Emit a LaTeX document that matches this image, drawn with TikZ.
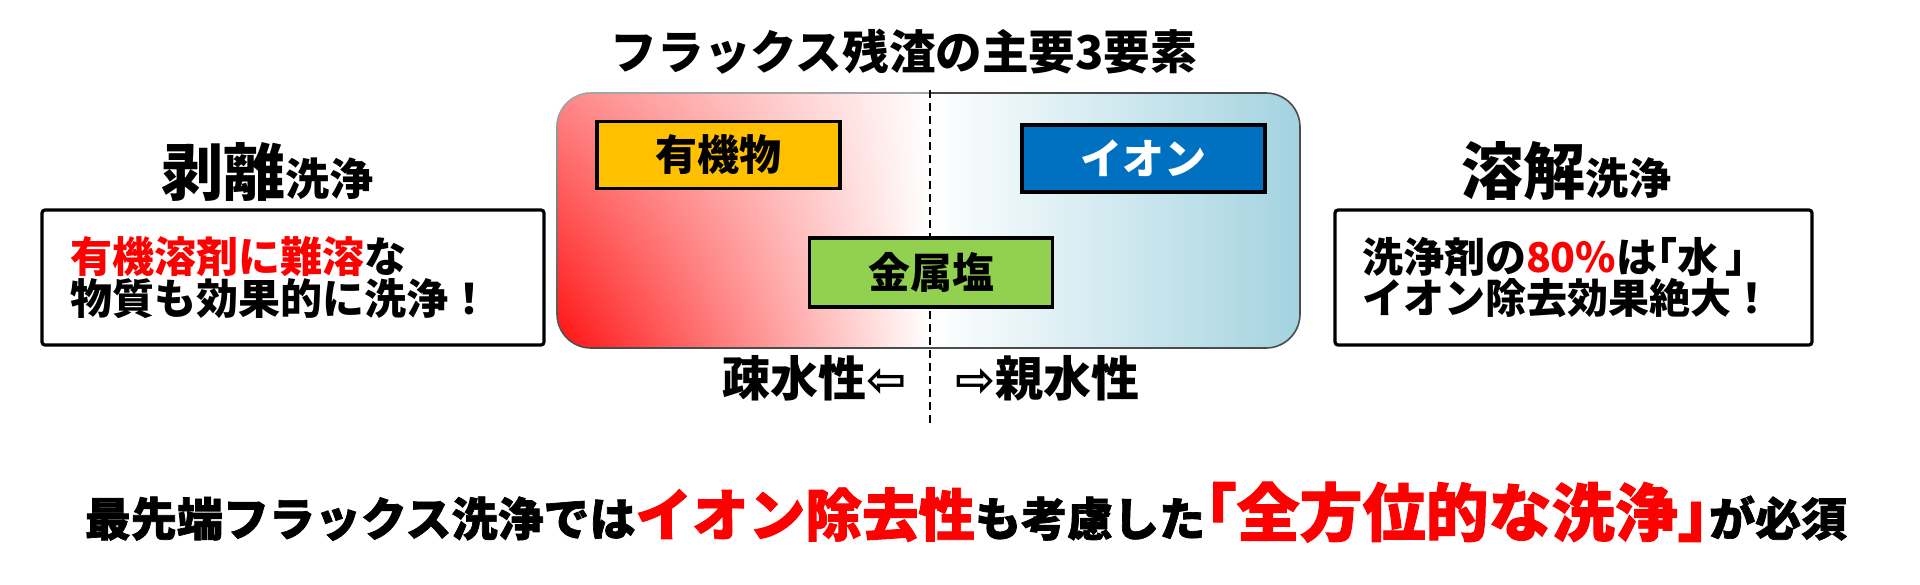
\documentclass[tikz,border=0pt]{standalone}
\usepackage{fontspec}
\setmainfont{Noto Sans CJK JP}
\newfontfamily\heavyfont{Noto Sans CJK JP}[BoldFeatures={FakeBold=1.5}]
\newfontfamily\arrowfont{DejaVu Sans}
\newcommand\halfbr[1]{{\addfontfeature{RawFeature=+halt}#1}}
\usetikzlibrary{fadings}
\definecolor{organicfill}{HTML}{FFC000}
\definecolor{ionfill}{HTML}{0070C0}
\definecolor{metalfill}{HTML}{92D050}
\definecolor{alertred}{HTML}{FF0000}
\definecolor{fluxred}{HTML}{FF1010}
\definecolor{fluxblue}{HTML}{A3D3E0}
\begin{document}
\begin{tikzpicture}[x=0.5pt, y=-0.5pt,
  fluxbox/.style={draw=gray!60!black, line width=0.8pt, rounded corners=17pt, left color=fluxred, right color=fluxblue, middle color=white, minimum width=371.5pt, minimum height=127.5pt},
  elembox/.style={draw, line width=1.7pt, minimum width=121.5pt, minimum height=33.5pt, font=\fontsize{21}{25}\selectfont\bfseries},
  cleanbox/.style={draw, line width=1.6pt, rounded corners=1.5pt, align=left, minimum height=67.5pt, font=\bfseries},
  sidelabel/.style={font=\fontsize{24}{28}\selectfont\bfseries}]
\useasboundingbox (0,0) rectangle (1920,584);
% title
\node[font=\fontsize{23.3}{28}\selectfont\bfseries] (title) at (904,52) {フラックス残渣の主要3要素};
% three residue elements
\node[fluxbox] (flux) at (928.5,220.5) {};
\begin{scope}
\clip[rounded corners=17pt] (flux.north west) rectangle (flux.south east);
\fill[white, fill opacity=0.5, path fading=south] (flux.north west) rectangle (flux.south);
\end{scope}
\coordinate (splittop) at (930,90);
\coordinate (splitbot) at (930,425);
\draw[line width=1pt, dash pattern=on 4pt off 2.5pt] (splittop) -- (splitbot);
\node[elembox, fill=organicfill] (organic) at (718.5,155) {有機物};
\node[elembox, fill=ionfill, text=white] (ion) at (1143.5,158.5) {イオン};
\node[elembox, fill=metalfill, minimum height=34.5pt] (metal) at (931,272.5) {金属塩};
\node[sidelabel, anchor=east] (phobic) at (914,378) {疎水性{\arrowfont ⇦}};
\node[sidelabel, anchor=west] (philic) at (948,378) {{\arrowfont ⇨}親水性};
% peeling cleaning
\node[anchor=base, font=\bfseries] (peel) at (267.5,195) {{\fontsize{31}{36}\selectfont 剥離}{\fontsize{22}{26}\selectfont 洗浄}};
\node[cleanbox, minimum width=251pt, text width=223pt, inner xsep=14pt] (peelbox) at (293,277.5) {\fontsize{21}{29}\selectfont{\color{alertred}有機溶剤に難溶}な\\物質も効果的に洗浄！};
% dissolving cleaning
\node[anchor=base, font=\bfseries] (dissolve) at (1566,194) {{\fontsize{31}{36}\selectfont 溶解}{\fontsize{21.5}{26}\selectfont 洗浄}};
\node[cleanbox, minimum width=238.5pt, text width=211.5pt, inner xsep=13.5pt] (dissolvebox) at (1573.5,277.5) {\fontsize{20.5}{29}\selectfont 洗浄剤の{\color{alertred}80\%}は\halfbr{「}水\,\halfbr{」}\\イオン除去効果絶大！};
% conclusion
\node[anchor=base, font=\heavyfont\bfseries] (must) at (966,536) {\fontsize{23}{28}\selectfont 最先端フラックス洗浄では{\color{alertred}\fontsize{28.3}{34}\selectfont イオン除去性}も考慮した{\color{alertred}\fontsize{31.5}{38}\selectfont\halfbr{「}全方位的な洗浄\halfbr{」}}が必須};
\end{tikzpicture}
\end{document}
